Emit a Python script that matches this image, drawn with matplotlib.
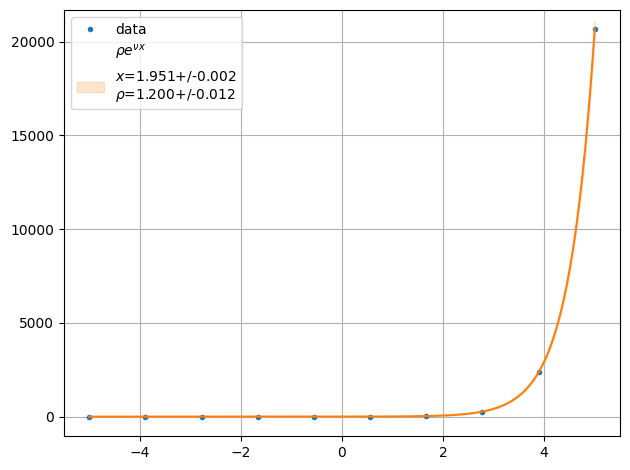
import numpy as np
import matplotlib
matplotlib.use('Agg')
from matplotlib import pyplot as plt
from matplotlib.lines import Line2D

# data points
x_data = [-5.0, -3.889, -2.778, -1.667, -0.556, 0.556, 1.667, 2.778, 3.889, 5.0]
y_data = [0.0001, 0.0006, 0.005, 0.05, 0.4, 3.5, 31.0, 270.0, 2370.0, 20650.0]

# fit parameters from the legend
nu, nu_err = 1.951, 0.002
rho, rho_err = 1.200, 0.012

fig, ax = plt.subplots(figsize=(6.3, 4.7), dpi=100)

xfit = np.linspace(min(x_data), max(x_data), 400)
yfit = rho * np.exp(nu * xfit)
ylow = (rho - rho_err) * np.exp((nu - nu_err) * xfit)
yhigh = (rho + rho_err) * np.exp((nu + nu_err) * xfit)

ax.plot(x_data, y_data, '.', color='C0')
ax.plot(xfit, yfit, color='C1')
band = ax.fill_between(xfit, ylow, yhigh, color='C1', alpha=0.2)

# keep limits on the data, not on the band
span = max(y_data) - min(y_data)
ax.set_ylim(min(y_data) - 0.05 * span, max(y_data) + 0.05 * span)

handles = [Line2D([], [], marker='.', linestyle='none', color='C0'),
           Line2D([], [], linestyle='none'),
           band]
labels = ['data',
          r'$\rho e^{\nu x}$',
          '$x$=%.3f+/-%.3f\n$\\rho$=%.3f+/-%.3f' % (nu, nu_err, rho, rho_err)]
ax.legend(handles, labels, loc='upper left')
ax.grid(True)

fig.subplots_adjust(left=64 / 630, right=620 / 630,
                    bottom=1 - 436 / 470, top=1 - 10 / 470)
fig.savefig('out.png')
